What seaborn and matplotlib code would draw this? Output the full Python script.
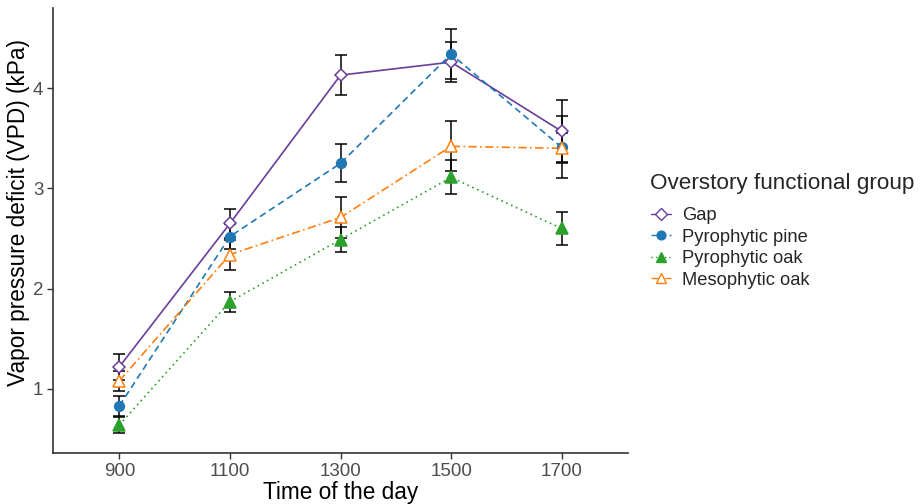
import matplotlib
matplotlib.use("Agg")
import matplotlib.pyplot as plt
import seaborn as sns
import pandas as pd
import numpy as np

times = ["900", "1100", "1300", "1500", "1700"]
groups = ["Gap", "Pyrophytic pine", "Pyrophytic oak", "Mesophytic oak"]
gap_mean = [1.22, 2.65, 4.13, 4.26, 3.57]
gap_se = [0.13, 0.14, 0.20, 0.20, 0.31]
pine_mean = [0.83, 2.52, 3.25, 4.34, 3.41]
pine_se = [0.10, 0.12, 0.19, 0.25, 0.31]
poak_mean = [0.64, 1.87, 2.49, 3.11, 2.60]
poak_se = [0.08, 0.10, 0.12, 0.17, 0.16]
moak_mean = [1.08, 2.34, 2.71, 3.42, 3.40]
moak_se = [0.10, 0.15, 0.20, 0.25, 0.15]

means = [gap_mean, pine_mean, poak_mean, moak_mean]
ses = [gap_se, pine_se, poak_se, moak_se]

rows = []
for g, m, s in zip(groups, means, ses):
    for i, t in enumerate(times):
        rows.append({"time": t, "pos": i, "group": g, "vpd": m[i], "se": s[i]})
df = pd.DataFrame(rows)

colors = {"Gap": "#6A3D9A", "Pyrophytic pine": "#1F78B4",
          "Pyrophytic oak": "#2CA02C", "Mesophytic oak": "#FF7F0E"}
markers = {"Gap": "D", "Pyrophytic pine": "o", "Pyrophytic oak": "^", "Mesophytic oak": "^"}
msizes = {"Gap": 6.5, "Pyrophytic pine": 7, "Pyrophytic oak": 8.5, "Mesophytic oak": 8.5}
lstyles = {"Gap": "-", "Pyrophytic pine": (0, (4, 2.5)), "Pyrophytic oak": (0, (1, 2.2)),
           "Mesophytic oak": (0, (5, 2, 1, 2))}
filled = {"Gap": False, "Pyrophytic pine": True, "Pyrophytic oak": True, "Mesophytic oak": False}

sns.set_theme(style="white")
plt.rcParams["font.family"] = ["Liberation Sans", "DejaVu Sans"]

fig = plt.figure(figsize=(9.21, 5.04), dpi=100)
ax = fig.add_axes([53/921, 1-453/504, (628-53)/921, (453-8)/504])

for g in groups:
    d = df[df.group == g]
    ax.errorbar(d["pos"], d["vpd"], yerr=d["se"], fmt="none", ecolor="black",
                elinewidth=1.1, capsize=4.5, capthick=1.1, zorder=2)

handles = []
for g in groups:
    d = df[df.group == g]
    sns.lineplot(data=d, x="pos", y="vpd", ax=ax, color=colors[g], linewidth=1.2,
                 linestyle=lstyles[g], zorder=3, legend=False)
    ax.plot(d["pos"], d["vpd"], linestyle="none", marker=markers[g], markersize=msizes[g],
            markerfacecolor=colors[g] if filled[g] else "white",
            markeredgecolor=colors[g], markeredgewidth=1.1, zorder=4)
    h, = ax.plot([], [], color=colors[g], linestyle=lstyles[g], linewidth=1.0,
                 marker=markers[g], markersize=msizes[g] * 0.9,
                 markerfacecolor=colors[g] if filled[g] else "white",
                 markeredgecolor=colors[g], markeredgewidth=1.0)
    handles.append(h)

ax.set_xlim(-0.6, 4.6)
ax.set_ylim(0.36, 4.8)
ax.set_xticks(range(len(times)))
ax.set_xticklabels(times)
ax.set_yticks([1, 2, 3, 4])
ax.set_yticklabels(["1", "2", "3", "4"])
ax.tick_params(axis="both", labelsize=13.5, labelcolor="#4D4D4D", length=4,
               color="#333333", width=1, bottom=True, left=True, pad=3)
for s in ["top", "right"]:
    ax.spines[s].set_visible(False)
for s in ["left", "bottom"]:
    ax.spines[s].set_color("#333333")
    ax.spines[s].set_linewidth(1.2)
ax.set_xlabel("Time of the day", fontsize=16.3, color="black", labelpad=1)
ax.set_ylabel("Vapor pressure deficit (VPD) (kPa)", fontsize=16.3, color="black")
ax.yaxis.set_label_coords(-0.040, 0.54)

leg = fig.legend(handles, groups, title="Overstory functional group",
                 loc="upper left", bbox_to_anchor=(634/921, 1-157/504),
                 frameon=False, fontsize=13.2, title_fontsize=16.2,
                 handlelength=1.1, labelspacing=0.25, handletextpad=0.6)
leg._legend_box.align = "left"
leg._legend_box.sep = 9

fig.savefig("out.png", dpi=100)
